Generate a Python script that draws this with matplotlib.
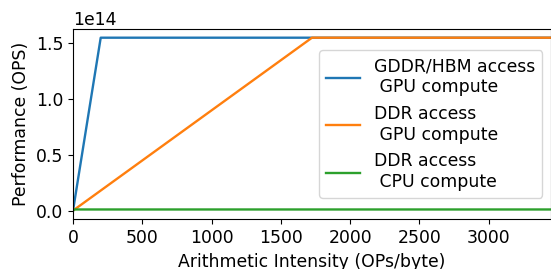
import matplotlib
matplotlib.use("Agg")
import matplotlib.pyplot as plt

# roofline vertices (arithmetic intensity in OPs/byte, performance in OPS)
hbm_gpu_ai = [0, 200, 3450]
hbm_gpu_perf = [0, 1.55e14, 1.55e14]

ddr_gpu_ai = [0, 1725, 3450]
ddr_gpu_perf = [0, 1.55e14, 1.55e14]

ddr_cpu_ai = [0, 11, 3450]
ddr_cpu_perf = [0, 1.0e12, 1.0e12]

labels = [
    "GDDR/HBM access\n GPU compute",
    "DDR access\n GPU compute",
    "DDR access\n CPU compute",
]

plt.rcParams["font.size"] = 12.4

fig = plt.figure(figsize=(5.51, 2.69), dpi=100)
ax = fig.add_axes([0.1325, 0.185, 0.8675, 0.707])
ax.plot(hbm_gpu_ai, hbm_gpu_perf, lw=1.7, label=labels[0])
ax.plot(ddr_gpu_ai, ddr_gpu_perf, lw=1.7, label=labels[1])
ax.plot(ddr_cpu_ai, ddr_cpu_perf, lw=1.7, label=labels[2])
ax.set_xlim(0, 3450)
ax.set_xticks([0, 500, 1000, 1500, 2000, 2500, 3000])
ax.set_xlabel("Arithmetic Intensity (OPs/byte)")
ax.set_ylabel("Performance (OPS)")
ax.legend(loc="center right")
fig.savefig("out.png", dpi=100)
plt.close(fig)
